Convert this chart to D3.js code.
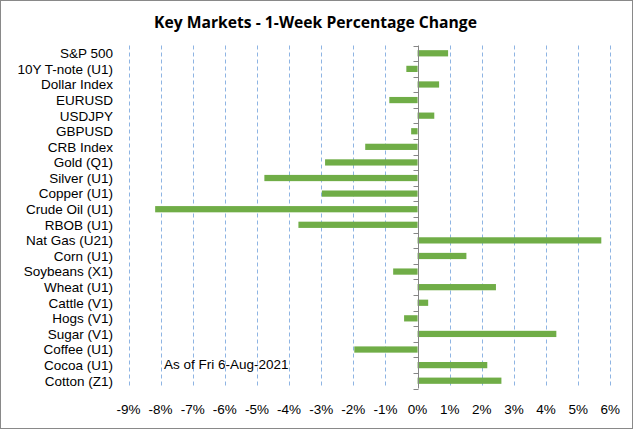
<!DOCTYPE html>
<html><head><meta charset="utf-8">
<script src="https://cdn.jsdelivr.net/npm/d3@7"></script>
<style>body{margin:0;background:#fff}svg{display:block}text{font-family:"Liberation Sans",Arial,sans-serif;fill:#000}</style>
</head><body><svg id="c" width="633" height="429"></svg>
<script>
const categories = ["S&P 500","10Y T-note (U1)","Dollar Index","EURUSD","USDJPY","GBPUSD","CRB Index","Gold (Q1)","Silver (U1)","Copper (U1)","Crude Oil (U1)","RBOB (U1)","Nat Gas (U21)","Corn (U1)","Soybeans (X1)","Wheat (U1)","Cattle (V1)","Hogs (V1)","Sugar (V1)","Coffee (U1)","Cocoa (U1)","Cotton (Z1)"];
const values = [0.95,-0.35,0.67,-0.88,0.52,-0.2,-1.63,-2.88,-4.77,-2.98,-8.17,-3.71,5.72,1.52,-0.76,2.44,0.33,-0.42,4.32,-1.97,2.17,2.61];
const ticks = [-9,-8,-7,-6,-5,-4,-3,-2,-1,0,1,2,3,4,5,6];
const title = "Key Markets - 1-Week Percentage Change";
const note = "As of Fri 6-Aug-2021";

const svg = d3.select("#c");
svg.append("rect").attr("x",0.5).attr("y",0.5).attr("width",632).attr("height",428).attr("fill","#fff").attr("stroke","#898989");

const L=128.5, R=610.3, T=45.5, B=388.5;
const x = d3.scaleLinear().domain([-9,6]).range([L,R]);
const yb = d3.scaleBand().domain(categories).range([T,B]);

svg.append("text").attr("x",315.5).attr("y",28).attr("text-anchor","middle")
  .style("font-family","'Open Sans',sans-serif")
  .style("font-weight","bold").style("font-size","15.7px").text(title);

// gridlines
svg.append("g").selectAll("line").data(ticks.filter(t=>t!==0)).join("line")
  .attr("x1",d=>Math.round(x(d))+0.5).attr("x2",d=>Math.round(x(d))+0.5)
  .attr("y1",T).attr("y2",B).attr("stroke","#8EB4E3").attr("stroke-width",1).attr("stroke-dasharray","4,3");

// bars
svg.append("g").selectAll("rect").data(values).join("rect")
  .attr("x",(d)=>x(Math.min(0,d))).attr("width",d=>Math.abs(x(d)-x(0)))
  .attr("y",(d,i)=>yb(categories[i])+yb.bandwidth()*0.3).attr("height",yb.bandwidth()*0.4)
  .attr("fill","#70AD47");

// zero axis
const x0 = Math.round(x(0))+0.5;
svg.append("line").attr("x1",x0).attr("x2",x0).attr("y1",T).attr("y2",B).attr("stroke","#868686");
const bounds = categories.map(c=>yb(c)).concat([B]);
svg.append("g").selectAll("line").data(bounds).join("line")
  .attr("x1",x0-5).attr("x2",x0).attr("y1",d=>Math.round(d)+0.5).attr("y2",d=>Math.round(d)+0.5).attr("stroke","#868686");

// category labels
svg.append("g").selectAll("text").data(categories).join("text")
  .attr("x",113).attr("y",d=>yb(d)+yb.bandwidth()/2).attr("dy","0.36em")
  .attr("text-anchor","end").style("font-size","13.5px").text(d=>d);

// x tick labels
svg.append("g").selectAll("text").data(ticks).join("text")
  .attr("x",d=>x(d)).attr("y",414).attr("text-anchor","middle").style("font-size","13.5px")
  .text(d=>`${d}%`);

svg.append("text").attr("x",164).attr("y",369).style("font-size","13.5px").text(note);
</script></body></html>
